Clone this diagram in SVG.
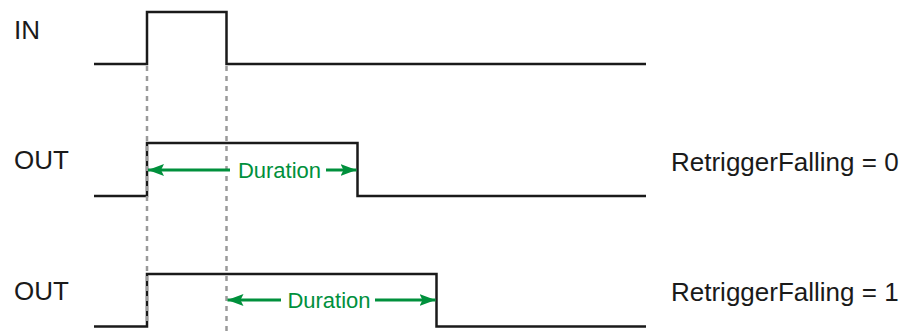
<svg xmlns="http://www.w3.org/2000/svg" width="912" height="332" viewBox="0 0 912 332">
<style>
.lbl{font-family:"Liberation Sans",Arial,sans-serif;font-size:26px;fill:#1a1a1a}
.dur{font-family:"Liberation Sans",Arial,sans-serif;font-size:22px;fill:#00903c;text-anchor:middle}
.wave{fill:none;stroke:#1a1a1a;stroke-width:2.5}
.dash{stroke:#9a9a9a;stroke-width:2.5;stroke-dasharray:5 5;fill:none}
.arr{stroke:#00903c;stroke-width:3;fill:none}
</style>
<defs>
<marker id="ah" viewBox="0 0 16 12" refX="16" refY="6" markerWidth="16" markerHeight="12" markerUnits="userSpaceOnUse" orient="auto-start-reverse">
<path d="M0,0 L16,6 L0,12 L3,6 Z" fill="#00903c"/>
</marker>
</defs>
<rect width="912" height="332" fill="#ffffff"/>
<g id="labels">
<text class="lbl" x="14" y="38.5">IN</text>
<text class="lbl" x="14" y="168.5">OUT</text>
<text class="lbl" x="14" y="299.5">OUT</text>
<text class="lbl" x="671" y="170.5">RetriggerFalling = 0</text>
<text class="lbl" x="671" y="300.5">RetriggerFalling = 1</text>
</g>
<g id="waveforms">
<path id="in" class="wave" d="M94,64 H147 V12 H226.5 V64 H646"/>
<path id="out1" class="wave" d="M94,196 H147 V143 H357.5 V196 H646"/>
<path id="out2" class="wave" d="M94,326.5 H147 V274 H436.5 V326.5 H646"/>
</g>
<g id="connectors">
<line class="dash" x1="147" y1="66" x2="147" y2="326"/>
<line class="dash" x1="226.5" y1="66" x2="226.5" y2="332"/>
<line class="arr" x1="230" y1="170" x2="148" y2="170" marker-end="url(#ah)"/>
<line class="arr" x1="326" y1="170" x2="356.5" y2="170" marker-end="url(#ah)"/>
<line class="arr" x1="281" y1="300" x2="227.5" y2="300" marker-end="url(#ah)"/>
<line class="arr" x1="375" y1="300" x2="435.5" y2="300" marker-end="url(#ah)"/>
</g>
<g id="duration-labels">
<text class="dur" x="279.5" y="177.5">Duration</text>
<text class="dur" x="329" y="308">Duration</text>
</g>
</svg>
